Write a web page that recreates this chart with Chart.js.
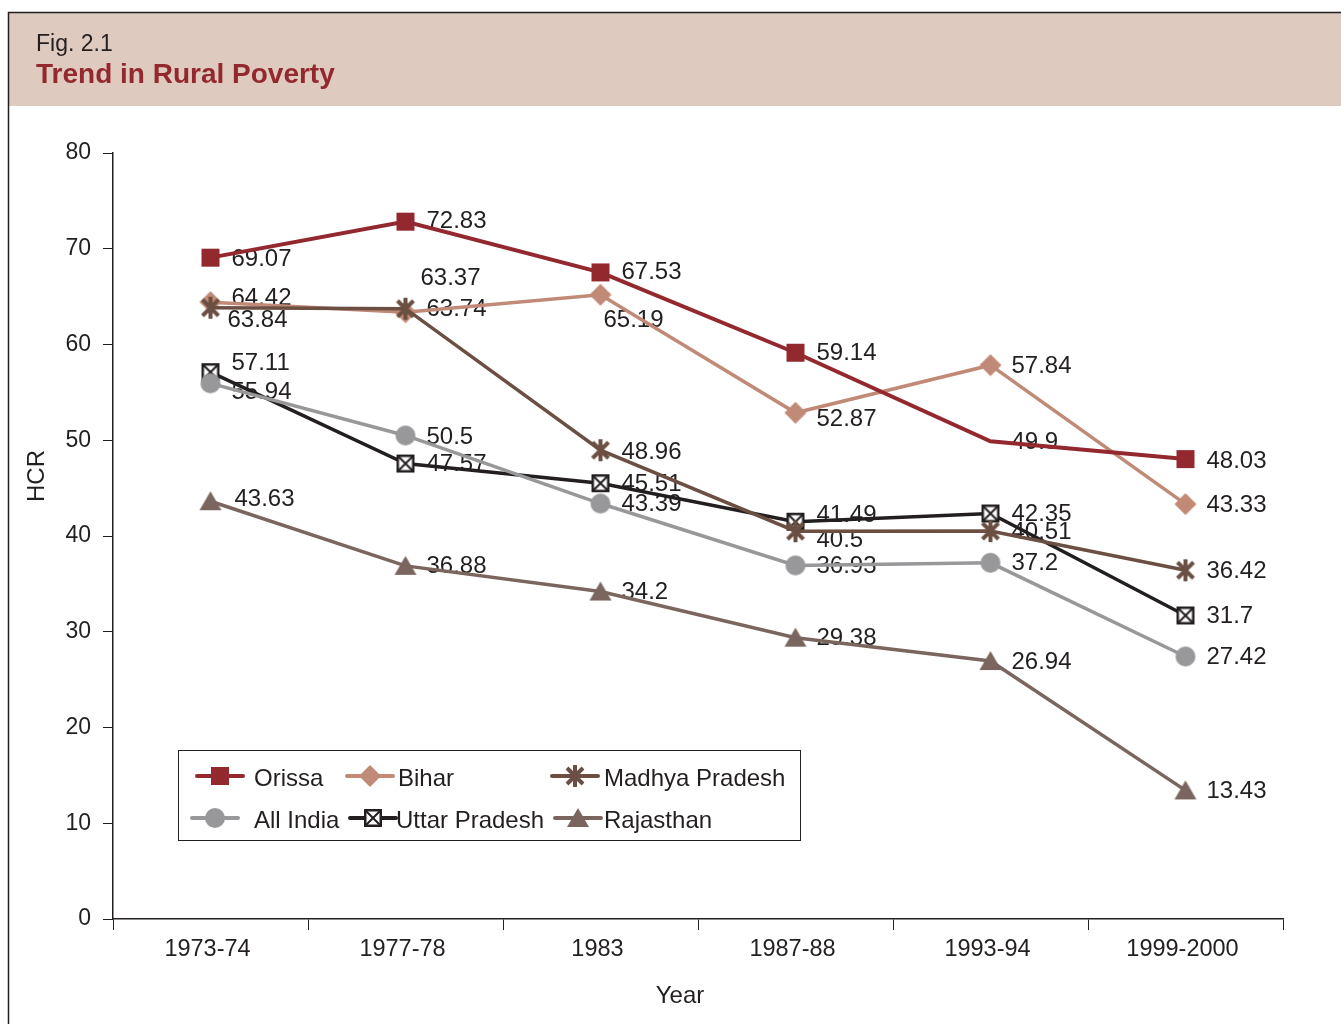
<!DOCTYPE html>
<html>
<head>
<meta charset="utf-8">
<script src="https://cdn.jsdelivr.net/npm/chart.js@4.4.0/dist/chart.umd.min.js"></script>
<style>
  html, body { margin: 0; padding: 0; background: #fff; }
  #wrap { width: 1341px; height: 1024px; }
</style>
</head>
<body>
<div id="wrap"><canvas id="chart" width="1341" height="1024"></canvas></div>
<script>
const years = ['1973-74', '1977-78', '1983', '1987-88', '1993-94', '1999-2000'];
const orissa = [69.07, 72.83, 67.53, 59.14, 49.9, 48.03];
const bihar = [64.42, 63.37, 65.19, 52.87, 57.84, 43.33];
const madhyaPradesh = [63.84, 63.74, 48.96, 40.5, 40.51, 36.42];
const allIndia = [55.94, 50.5, 43.39, 36.93, 37.2, 27.42];
const uttarPradesh = [57.11, 47.57, 45.51, 41.49, 42.35, 31.7];
const rajasthan = [43.63, 36.88, 34.2, 29.38, 26.94, 13.43];
const yTicks = [0, 10, 20, 30, 40, 50, 60, 70, 80];

const INK = '#231f20';
const FONT = "'Liberation Sans', Arial, sans-serif";

// little canvases used as point styles (and again in the legend)
function makeMarker(kind, color) {
    const c = document.createElement('canvas');
    const s = kind === 'square' || kind === 'boxX' ? 20 : 24;
    c.width = s; c.height = s;
    const g = c.getContext('2d');
    const m = s / 2;
    g.fillStyle = color;
    g.strokeStyle = color;
    if (kind === 'square') {
        g.fillRect(1, 1, 18, 18);
    } else if (kind === 'diamond') {
        g.beginPath();
        g.moveTo(m, 1); g.lineTo(s - 1, m); g.lineTo(m, s - 1); g.lineTo(1, m);
        g.closePath(); g.fill();
    } else if (kind === 'asterisk') {
        g.lineWidth = 4;
        g.beginPath();
        g.moveTo(4, 4); g.lineTo(20, 20);
        g.moveTo(20, 4); g.lineTo(4, 20);
        g.moveTo(12, 1); g.lineTo(12, 23);
        g.stroke();
    } else if (kind === 'circle') {
        g.beginPath(); g.arc(m, m, 10, 0, Math.PI * 2); g.fill();
    } else if (kind === 'boxX') {
        g.fillStyle = '#fff';
        g.fillRect(2, 2, 16, 16);
        g.lineWidth = 2.5;
        g.strokeRect(2.25, 2.25, 15.5, 15.5);
        g.lineWidth = 2;
        g.beginPath();
        g.moveTo(3, 3); g.lineTo(17, 17);
        g.moveTo(17, 3); g.lineTo(3, 17);
        g.stroke();
    } else if (kind === 'triangle') {
        g.beginPath();
        g.moveTo(m, 2); g.lineTo(s - 1, 21); g.lineTo(1, 21);
        g.closePath(); g.fill();
    }
    return c;
}

const series = [
    { label: 'Orissa', data: orissa, color: '#93282f', marker: 'square', width: 4, order: 0 },
    { label: 'Bihar', data: bihar, color: '#c08a76', marker: 'diamond', width: 3.5, order: 2 },
    { label: 'Madhya Pradesh', data: madhyaPradesh, color: '#6b4f42', marker: 'asterisk', width: 3.5, order: 1 },
    { label: 'All India', data: allIndia, color: '#98989b', marker: 'circle', width: 3.5, order: 3 },
    { label: 'Uttar Pradesh', data: uttarPradesh, color: INK, marker: 'boxX', width: 3.5, order: 4 },
    { label: 'Rajasthan', data: rajasthan, color: '#7b665f', marker: 'triangle', width: 3.5, order: 5 }
];
series.forEach(s => { s.img = makeMarker(s.marker, s.color); });

// where each value label sits relative to its point (text left edge, middle)
const labelShift = {
    'Orissa': [[21, 2], [21, 0], [21, 0], [21, 1], [21, 1], [21, 2]],
    'Bihar': [[21, -4], [15, -34], [3, 26], [21, 7], [21, 1], [21, 1]],
    'Madhya Pradesh': [[17, 13], [21, 1], [21, 2], [21, 9], [21, 1], [21, 1]],
    'All India': [[21, 9], [21, 2], [21, 1], [21, 1], [21, 1], [21, 1]],
    'Uttar Pradesh': [[21, -9], [21, 1], [21, 1], [21, -6], [21, 1], [21, 1]],
    'Rajasthan': [[24, -2], [21, 1], [21, 1], [21, 1], [21, 1], [21, 1]]
};

const frame = {
    id: 'frame',
    beforeDraw(chart) {
        const ctx = chart.ctx;
        ctx.save();
        ctx.fillStyle = '#dfcabf';
        ctx.fillRect(8, 12, 1341, 94);
        ctx.strokeStyle = INK;
        ctx.lineWidth = 1.5;
        ctx.beginPath();
        ctx.moveTo(8.5, 1024); ctx.lineTo(8.5, 12.5); ctx.lineTo(1341, 12.5);
        ctx.stroke();
        ctx.textBaseline = 'alphabetic';
        ctx.textAlign = 'left';
        ctx.fillStyle = INK;
        ctx.font = '23px ' + FONT;
        ctx.fillText('Fig. 2.1', 36, 51);
        ctx.fillStyle = '#93282f';
        ctx.font = 'bold 28px ' + FONT;
        ctx.fillText('Trend in Rural Poverty', 36, 83);
        // axis titles
        ctx.fillStyle = INK;
        ctx.font = '24px ' + FONT;
        ctx.textAlign = 'center';
        ctx.textBaseline = 'middle';
        ctx.fillText('Year', 680, 996);
        ctx.translate(37, 476);
        ctx.rotate(-Math.PI / 2);
        ctx.fillText('HCR', 0, 0);
        ctx.restore();
    }
};

const valueLabels = {
    id: 'valueLabels',
    beforeDatasetsDraw(chart) {
        const ctx = chart.ctx;
        ctx.save();
        ctx.font = '24px ' + FONT;
        ctx.fillStyle = INK;
        ctx.textAlign = 'left';
        ctx.textBaseline = 'middle';
        chart.data.datasets.forEach((ds, di) => {
            const meta = chart.getDatasetMeta(di);
            const shifts = labelShift[ds.label];
            meta.data.forEach((pt, i) => {
                ctx.fillText(String(ds.data[i]), pt.x + shifts[i][0], pt.y + shifts[i][1]);
            });
        });
        ctx.restore();
    }
};

const legendBox = {
    id: 'legendBox',
    afterDraw(chart) {
        const ctx = chart.ctx;
        const spots = [
            [197, 243, 776], [347, 393, 776], [552, 598, 776],
            [192, 238, 818], [350, 396, 818], [555, 601, 818]
        ];
        const textX = [254, 398, 604, 254, 396, 604];
        ctx.save();
        ctx.fillStyle = '#fff';
        ctx.fillRect(178.5, 750.5, 622, 90);
        ctx.strokeStyle = INK;
        ctx.lineWidth = 1;
        ctx.strokeRect(178.5, 750.5, 622, 90);
        series.forEach((s, i) => {
            const [x1, x2, y] = spots[i];
            ctx.strokeStyle = s.color;
            ctx.lineWidth = 4;
            ctx.lineCap = 'round';
            ctx.beginPath(); ctx.moveTo(x1, y); ctx.lineTo(x2, y); ctx.stroke();
            const cx = (x1 + x2) / 2;
            ctx.drawImage(s.img, cx - s.img.width / 2, y - s.img.height / 2);
            ctx.fillStyle = INK;
            ctx.font = '24px ' + FONT;
            ctx.textAlign = 'left';
            ctx.textBaseline = 'middle';
            ctx.fillText(s.label, textX[i], y + 3);
        });
        ctx.restore();
    }
};

new Chart(document.getElementById('chart'), {
    type: 'line',
    data: {
        labels: years,
        datasets: series.map(s => ({
            label: s.label,
            data: s.data,
            borderColor: s.color,
            backgroundColor: s.color,
            borderWidth: s.width,
            pointStyle: s.img,
            // Orissa has no marker drawn at 1993-94
            pointRadius: s.label === 'Orissa' ? [8, 8, 8, 8, 0, 8] : 8,
            tension: 0,
            fill: false,
            order: s.order
        }))
    },
    options: {
        responsive: false,
        animation: false,
        events: [],
        layout: { padding: { left: 0, top: 153, right: 58, bottom: 0 } },
        plugins: {
            legend: { display: false },
            tooltip: { enabled: false }
        },
        scales: {
            x: {
                offset: true,
                grid: { offset: true, drawOnChartArea: false, tickLength: 11, color: INK, lineWidth: 1 },
                border: { color: INK, width: 1.5 },
                ticks: { color: INK, font: { family: FONT, size: 23.5 }, padding: 5, maxRotation: 0, labelOffset: -3 },
                afterFit: s => { s.height = 105; }
            },
            y: {
                min: 0,
                max: 80,
                afterBuildTicks: s => { s.ticks = yTicks.map(v => ({ value: v })); },
                grid: { drawOnChartArea: false, tickLength: 10, color: INK, lineWidth: 1 },
                border: { color: INK, width: 1.5 },
                ticks: { color: INK, font: { family: FONT, size: 23 }, padding: 12 },
                afterFit: s => { s.width = 113; }
            }
        }
    },
    plugins: [frame, valueLabels, legendBox]
});
</script>
</body>
</html>
